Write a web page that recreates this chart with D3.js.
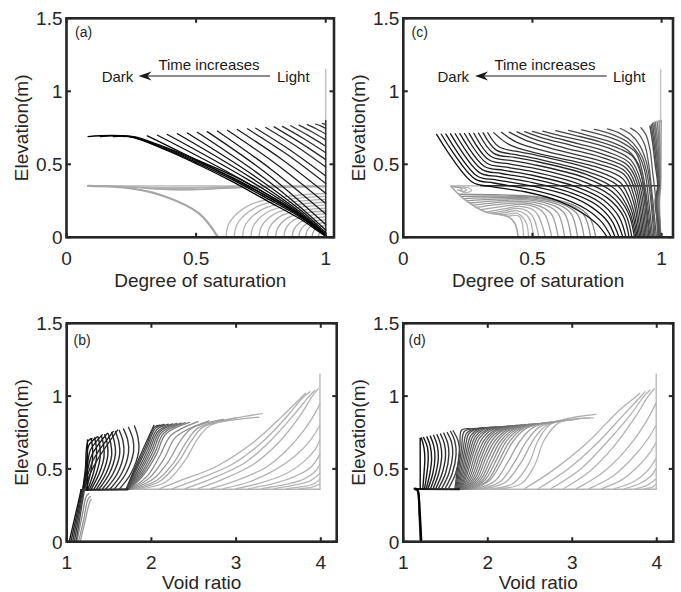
<!DOCTYPE html>
<html>
<head>
<meta charset="utf-8">
<script src="https://cdn.jsdelivr.net/npm/d3@7/dist/d3.min.js"></script>
<style>
  body { margin: 0; background: #fff; }
  svg { display: block; font-family: "Liberation Sans", Arial, sans-serif; }
</style>
</head>
<body>
<script>
// tick values
const satTicks = [0, 0.5, 1];
const voidTicks = [1, 2, 3, 4];
const elevTicks = [0, 0.5, 1, 1.5];

// ---- panel (a): degree of saturation, case 1 ----
const aInitial = [[1, 0.79], [1, 1.15]];
const aWet = [[1, 0], [1, 0.8]];
const aSurface = [
  [[0.083, 0.352], [1, 0.352]],
  [[0.14, 0.351], [0.3, 0.344], [0.45, 0.341], [0.6, 0.347], [1, 0.35]],
  [[0.2, 0.35], [0.32, 0.337], [0.45, 0.333], [0.62, 0.344], [1, 0.349]],
  [[0.25, 0.345], [0.35, 0.33], [0.47, 0.327], [0.65, 0.342], [1, 0.348]],
  [[0.3, 0.34], [0.4, 0.327], [0.5, 0.326], [0.68, 0.341], [1, 0.347]]
];
const aArc = [[0.083, 0.352], [0.25, 0.335], [0.383, 0.278], [0.511, 0.164], [0.585, 0]];
const aBottom = [
  [[0.615, 0], [0.630, 0.105], [0.711, 0.225], [0.846, 0.279], [1, 0.30]],
  [[0.647, 0], [0.661, 0.098], [0.735, 0.21], [0.859, 0.26], [1, 0.28]],
  [[0.679, 0], [0.692, 0.091], [0.759, 0.195], [0.872, 0.242], [1, 0.26]],
  [[0.711, 0], [0.723, 0.084], [0.783, 0.18], [0.884, 0.223], [1, 0.24]],
  [[0.743, 0], [0.753, 0.077], [0.807, 0.165], [0.897, 0.205], [1, 0.22]],
  [[0.775, 0], [0.784, 0.07], [0.831, 0.15], [0.91, 0.186], [1, 0.2]],
  [[0.807, 0], [0.815, 0.063], [0.855, 0.135], [0.923, 0.167], [1, 0.18]],
  [[0.839, 0], [0.845, 0.056], [0.879, 0.12], [0.936, 0.149], [1, 0.16]],
  [[0.871, 0], [0.876, 0.049], [0.903, 0.105], [0.948, 0.13], [1, 0.14]],
  [[0.897, 0], [0.901, 0.042], [0.923, 0.09], [0.959, 0.112], [1, 0.12]],
  [[0.923, 0], [0.926, 0.035], [0.942, 0.075], [0.969, 0.093], [1, 0.10]],
  [[0.948, 0], [0.95, 0.028], [0.961, 0.06], [0.979, 0.074], [1, 0.08]],
  [[0.972, 0], [0.973, 0.018], [0.979, 0.038], [0.989, 0.047], [1, 0.05]]
];
// early (top right) to late (lowest)
const aDark = [
  [[0.987, 0.78], [1, 0.772]],
  [[0.961, 0.776], [0.98, 0.763], [1, 0.746]],
  [[0.929, 0.772], [0.965, 0.742], [1, 0.708]],
  [[0.897, 0.768], [0.948, 0.721], [1, 0.667]],
  [[0.865, 0.764], [0.932, 0.698], [1, 0.624]],
  [[0.833, 0.760], [0.916, 0.675], [1, 0.579]],
  [[0.801, 0.756], [0.90, 0.65], [1, 0.532]],
  [[0.769, 0.752], [0.885, 0.625], [1, 0.482]],
  [[0.730, 0.747], [0.865, 0.595], [1, 0.420]],
  [[0.698, 0.743], [0.849, 0.57], [1, 0.368]],
  [[0.659, 0.738], [0.83, 0.535], [1, 0.301]],
  [[0.621, 0.733], [0.81, 0.50], [1, 0.232]],
  [[0.582, 0.728], [0.79, 0.465], [1, 0.16]],
  [[0.543, 0.724], [0.77, 0.44], [1, 0.087]],
  [[0.505, 0.719], [0.752, 0.42], [0.9, 0.21], [1, 0.05]],
  [[0.466, 0.714], [0.733, 0.41], [0.9, 0.19], [1, 0.032]],
  [[0.428, 0.709], [0.714, 0.405], [0.9, 0.175], [1, 0.023]],
  [[0.389, 0.704], [0.695, 0.40], [0.9, 0.165], [1, 0.018]],
  [[0.351, 0.699], [0.675, 0.395], [0.9, 0.155], [1, 0.016]],
  [[0.312, 0.695], [0.656, 0.39], [0.9, 0.15], [1, 0.013]],
  [[0.22, 0.69], [0.26, 0.69], [0.37, 0.625], [0.51, 0.525], [0.65, 0.415], [0.78, 0.29], [0.9, 0.16], [0.975, 0.055], [1, 0.015]],
  [[0.18, 0.69], [0.25, 0.69], [0.375, 0.615], [0.51, 0.515], [0.645, 0.405], [0.775, 0.28], [0.9, 0.15], [0.975, 0.05], [1, 0.012]],
  [[0.13, 0.69], [0.245, 0.69], [0.38, 0.605], [0.51, 0.505], [0.64, 0.395], [0.77, 0.27], [0.9, 0.14], [0.975, 0.045], [1, 0.01]],
  [[0.083, 0.69], [0.2415, 0.689], [0.383, 0.598], [0.511, 0.495], [0.64, 0.381], [0.769, 0.255], [0.897, 0.13], [0.974, 0.038], [1, 0.005]]
];

// ---- panel (c): degree of saturation, case 2 ----
const cInitial = [[0.996, 0.79], [0.996, 1.146]];
const cSurface = [[0.186, 0.352], [0.995, 0.352]];
const cInterface = [[0.3, 0.353], [0.99, 0.353]];
const cEnvelope = [[0.185, 0.348], [0.239, 0.256], [0.316, 0.175], [0.406, 0.141], [0.432, 0.095], [0.445, 0]];
const cLoops = [
  [[0.185, 0.348], [0.225, 0.346], [0.255, 0.338], [0.265, 0.322], [0.25, 0.308], [0.23, 0.31]],
  [[0.185, 0.348], [0.21, 0.345], [0.235, 0.337], [0.245, 0.325], [0.235, 0.315], [0.22, 0.318]],
  [[0.185, 0.348], [0.2, 0.344], [0.22, 0.338], [0.227, 0.328], [0.22, 0.322], [0.21, 0.325]]
];
// outer (early) to inner (late)
const cArcs = [
  [[0.215, 0.295], [0.38, 0.29], [0.53, 0.275], [0.66, 0.22], [0.72, 0.14], [0.745, 0]],
  [[0.225, 0.28], [0.37, 0.282], [0.52, 0.272], [0.645, 0.22], [0.70, 0.15], [0.725, 0]],
  [[0.235, 0.265], [0.36, 0.272], [0.51, 0.268], [0.625, 0.22], [0.675, 0.155], [0.70, 0]],
  [[0.245, 0.25], [0.36, 0.262], [0.50, 0.262], [0.605, 0.22], [0.65, 0.16], [0.675, 0]],
  [[0.255, 0.235], [0.36, 0.25], [0.49, 0.255], [0.585, 0.215], [0.625, 0.16], [0.65, 0]],
  [[0.27, 0.22], [0.36, 0.238], [0.48, 0.245], [0.565, 0.21], [0.60, 0.16], [0.625, 0]],
  [[0.285, 0.205], [0.37, 0.225], [0.47, 0.235], [0.545, 0.2], [0.575, 0.155], [0.60, 0]],
  [[0.30, 0.19], [0.38, 0.21], [0.46, 0.225], [0.525, 0.195], [0.55, 0.15], [0.575, 0]],
  [[0.32, 0.172], [0.39, 0.195], [0.45, 0.212], [0.505, 0.185], [0.525, 0.14], [0.55, 0]],
  [[0.34, 0.165], [0.40, 0.185], [0.44, 0.198], [0.485, 0.175], [0.505, 0.13], [0.525, 0]],
  [[0.36, 0.158], [0.41, 0.175], [0.44, 0.182], [0.475, 0.155], [0.49, 0.12], [0.505, 0]],
  [[0.38, 0.15], [0.42, 0.162], [0.44, 0.165], [0.465, 0.13], [0.478, 0.09], [0.485, 0]],
  [[0.40, 0.142], [0.43, 0.15], [0.448, 0.145], [0.46, 0.1], [0.466, 0]]
];
const cWall = [
  [[0.998, 0.8], [0.997, 0.5], [0.996, 0.35], [0.992, 0.25], [0.997, 0]],
  [[0.99, 0.8], [0.993, 0.6], [0.995, 0.4], [0.99, 0.25], [0.995, 0]],
  [[0.982, 0.795], [0.99, 0.65], [0.993, 0.45], [0.993, 0.35], [0.987, 0.25], [0.993, 0.1], [0.995, 0]],
  [[0.975, 0.79], [0.985, 0.65], [0.99, 0.5], [0.993, 0.35], [0.985, 0.25], [0.993, 0.1], [0.995, 0]],
  [[0.97, 0.785], [0.98, 0.65], [0.987, 0.5], [0.99, 0.35], [0.982, 0.25], [0.99, 0.1], [0.994, 0]],
  [[0.965, 0.78], [0.975, 0.65], [0.985, 0.5], [0.99, 0.35], [0.98, 0.25], [0.99, 0.1], [0.993, 0]],
  [[0.96, 0.77], [0.97, 0.65], [0.98, 0.5], [0.987, 0.35], [0.977, 0.25], [0.987, 0.1], [0.992, 0]],
  [[0.955, 0.76], [0.965, 0.65], [0.975, 0.5], [0.985, 0.35], [0.975, 0.25], [0.985, 0.1], [0.99, 0]]
];
// early (top right) to late (lowest)
const cDark = [
  [[0.92, 0.75], [0.94, 0.7], [0.955, 0.6], [0.965, 0.45], [0.975, 0.3], [0.98, 0.15], [0.985, 0]],
  [[0.88, 0.748], [0.91, 0.71], [0.935, 0.63], [0.95, 0.5], [0.96, 0.35], [0.97, 0.18], [0.98, 0]],
  [[0.84, 0.745], [0.88, 0.705], [0.915, 0.63], [0.94, 0.52], [0.955, 0.38], [0.965, 0.2], [0.975, 0]],
  [[0.79, 0.742], [0.84, 0.71], [0.89, 0.645], [0.925, 0.55], [0.945, 0.42], [0.96, 0.22], [0.97, 0]],
  [[0.74, 0.739], [0.80, 0.71], [0.87, 0.65], [0.91, 0.57], [0.935, 0.45], [0.95, 0.25], [0.965, 0]],
  [[0.69, 0.736], [0.76, 0.705], [0.84, 0.655], [0.90, 0.58], [0.925, 0.45], [0.94, 0.3], [0.96, 0]],
  [[0.64, 0.733], [0.71, 0.70], [0.80, 0.655], [0.87, 0.595], [0.91, 0.5], [0.93, 0.35], [0.955, 0]],
  [[0.59, 0.73], [0.66, 0.70], [0.76, 0.655], [0.84, 0.605], [0.89, 0.55], [0.925, 0.40], [0.95, 0]],
  [[0.54, 0.727], [0.61, 0.695], [0.72, 0.65], [0.81, 0.6], [0.88, 0.53], [0.92, 0.38], [0.945, 0]],
  [[0.50, 0.725], [0.57, 0.69], [0.68, 0.64], [0.79, 0.585], [0.875, 0.51], [0.915, 0.36], [0.94, 0]],
  [[0.47, 0.724], [0.54, 0.68], [0.65, 0.63], [0.78, 0.565], [0.87, 0.49], [0.91, 0.34], [0.935, 0]],
  [[0.44, 0.722], [0.51, 0.67], [0.62, 0.615], [0.77, 0.545], [0.865, 0.47], [0.905, 0.32], [0.93, 0]],
  [[0.41, 0.72], [0.48, 0.66], [0.59, 0.60], [0.76, 0.525], [0.86, 0.45], [0.90, 0.3], [0.925, 0]],
  [[0.38, 0.719], [0.44, 0.65], [0.55, 0.59], [0.75, 0.505], [0.855, 0.43], [0.895, 0.27], [0.92, 0]],
  [[0.35, 0.717], [0.41, 0.635], [0.52, 0.575], [0.74, 0.485], [0.85, 0.40], [0.89, 0.25], [0.915, 0]],
  [[0.327, 0.716], [0.37, 0.62], [0.45, 0.585], [0.52, 0.56], [0.73, 0.465], [0.84, 0.375], [0.885, 0.22], [0.91, 0]],
  [[0.309, 0.715], [0.36, 0.597], [0.44, 0.565], [0.51, 0.54], [0.72, 0.445], [0.83, 0.355], [0.88, 0.2], [0.905, 0]],
  [[0.291, 0.714], [0.35, 0.575], [0.43, 0.547], [0.50, 0.525], [0.71, 0.43], [0.82, 0.33], [0.875, 0.18], [0.90, 0]],
  [[0.273, 0.713], [0.34, 0.553], [0.42, 0.525], [0.50, 0.50], [0.70, 0.41], [0.81, 0.31], [0.87, 0.17], [0.895, 0]],
  [[0.255, 0.712], [0.331, 0.531], [0.41, 0.503], [0.50, 0.475], [0.69, 0.387], [0.80, 0.29], [0.86, 0.16], [0.885, 0]],
  [[0.237, 0.711], [0.322, 0.509], [0.40, 0.48], [0.50, 0.45], [0.68, 0.365], [0.79, 0.27], [0.85, 0.15], [0.874, 0]],
  [[0.219, 0.710], [0.313, 0.487], [0.39, 0.459], [0.50, 0.425], [0.67, 0.345], [0.775, 0.255], [0.835, 0.14], [0.862, 0]],
  [[0.201, 0.709], [0.304, 0.465], [0.38, 0.437], [0.50, 0.40], [0.66, 0.325], [0.76, 0.24], [0.82, 0.13], [0.85, 0]],
  [[0.183, 0.708], [0.295, 0.443], [0.37, 0.415], [0.50, 0.375], [0.65, 0.305], [0.75, 0.22], [0.805, 0.12], [0.835, 0]],
  [[0.165, 0.707], [0.286, 0.42], [0.36, 0.393], [0.50, 0.35], [0.64, 0.285], [0.73, 0.205], [0.79, 0.11], [0.82, 0]],
  [[0.147, 0.706], [0.277, 0.40], [0.35, 0.372], [0.50, 0.325], [0.62, 0.265], [0.71, 0.19], [0.77, 0.1], [0.805, 0]],
  [[0.129, 0.705], [0.265, 0.381], [0.342, 0.347], [0.471, 0.312], [0.60, 0.25], [0.69, 0.17], [0.75, 0.09], [0.79, 0]]
];

// ---- panel (b): void ratio, case 1 ----
const bInitial = [[3.99, 0.36], [3.99, 1.15]];
const bSurface = [[1.7, 0.36], [3.99, 0.36]];
const bInterface = [[1.17, 0.355], [1.72, 0.36]];
const bFan = [
  [[2.1, 0.365], [2.36, 0.424], [2.76, 0.515], [3.19, 0.676], [3.54, 0.859], [3.74, 0.973], [3.82, 1.02]],
  [[2.25, 0.365], [2.55, 0.43], [2.95, 0.53], [3.3, 0.68], [3.6, 0.86], [3.78, 0.985], [3.87, 1.03]],
  [[2.4, 0.365], [2.7, 0.43], [3.1, 0.54], [3.4, 0.69], [3.68, 0.87], [3.85, 0.99], [3.93, 1.04]],
  [[2.55, 0.365], [2.85, 0.43], [3.2, 0.53], [3.5, 0.68], [3.75, 0.86], [3.9, 1.0], [3.97, 1.05]],
  [[2.7, 0.365], [3.0, 0.42], [3.35, 0.51], [3.6, 0.63], [3.82, 0.78], [3.95, 0.9], [3.99, 0.95]],
  [[2.85, 0.365], [3.15, 0.41], [3.45, 0.49], [3.7, 0.59], [3.88, 0.7], [3.99, 0.8]],
  [[3.0, 0.365], [3.3, 0.405], [3.6, 0.47], [3.8, 0.55], [3.93, 0.63], [3.99, 0.7]],
  [[3.15, 0.365], [3.45, 0.4], [3.7, 0.45], [3.88, 0.51], [3.99, 0.6]],
  [[3.3, 0.365], [3.6, 0.395], [3.8, 0.43], [3.93, 0.48], [3.99, 0.53]],
  [[3.45, 0.365], [3.7, 0.39], [3.88, 0.42], [3.99, 0.47]],
  [[3.6, 0.365], [3.8, 0.38], [3.93, 0.4], [3.99, 0.43]],
  [[3.75, 0.365], [3.9, 0.375], [3.99, 0.395]]
];
// light (early, long) to dark (late, steep)
const bMid = [
  [[1.82, 0.36], [2.17, 0.41], [2.40, 0.56], [2.55, 0.71], [2.7, 0.8], [3.31, 0.88]],
  [[1.8, 0.36], [2.1, 0.415], [2.32, 0.55], [2.48, 0.70], [2.62, 0.79], [3.27, 0.855]],
  [[1.78, 0.36], [2.06, 0.42], [2.26, 0.54], [2.42, 0.69], [2.55, 0.78], [3.0, 0.85]],
  [[1.77, 0.36], [2.02, 0.43], [2.2, 0.55], [2.35, 0.70], [2.48, 0.78], [2.85, 0.84]],
  [[1.76, 0.36], [1.98, 0.44], [2.15, 0.57], [2.29, 0.72], [2.68, 0.83]],
  [[1.75, 0.36], [1.95, 0.45], [2.10, 0.59], [2.23, 0.73], [2.55, 0.825]],
  [[1.74, 0.36], [1.91, 0.46], [2.06, 0.60], [2.17, 0.74], [2.45, 0.82]],
  [[1.735, 0.36], [1.895, 0.465], [2.04, 0.61], [2.145, 0.745], [2.4, 0.818]],
  [[1.73, 0.36], [1.88, 0.47], [2.02, 0.62], [2.12, 0.75], [2.35, 0.815]],
  [[1.725, 0.36], [1.865, 0.475], [2.0, 0.625], [2.1, 0.755], [2.3, 0.812]],
  [[1.72, 0.36], [1.85, 0.48], [1.98, 0.63], [2.08, 0.76], [2.25, 0.81]],
  [[1.715, 0.36], [1.835, 0.485], [1.965, 0.64], [2.065, 0.77], [2.2, 0.808]],
  [[1.71, 0.36], [1.82, 0.49], [1.95, 0.65], [2.05, 0.78], [2.15, 0.805]],
  [[1.705, 0.36], [1.81, 0.495], [1.935, 0.655], [2.04, 0.79], [2.1, 0.8]],
  [[1.70, 0.36], [1.80, 0.5], [1.92, 0.66], [2.03, 0.80]]
];
const bArcs = [
  [[1.62, 0.36], [1.76, 0.47], [1.85, 0.62], [1.84, 0.72], [1.8, 0.795]],
  [[1.56, 0.36], [1.70, 0.47], [1.79, 0.62], [1.78, 0.71], [1.73, 0.785]],
  [[1.51, 0.36], [1.65, 0.47], [1.73, 0.61], [1.72, 0.70], [1.67, 0.775]],
  [[1.46, 0.36], [1.6, 0.47], [1.675, 0.61], [1.665, 0.69], [1.62, 0.765]],
  [[1.42, 0.36], [1.55, 0.47], [1.625, 0.6], [1.615, 0.685], [1.575, 0.757]],
  [[1.38, 0.36], [1.505, 0.47], [1.575, 0.6], [1.565, 0.68], [1.53, 0.75]],
  [[1.35, 0.36], [1.465, 0.47], [1.53, 0.59], [1.52, 0.675], [1.49, 0.742]],
  [[1.32, 0.36], [1.425, 0.47], [1.485, 0.59], [1.48, 0.67], [1.45, 0.735]],
  [[1.29, 0.36], [1.385, 0.47], [1.44, 0.58], [1.435, 0.665], [1.41, 0.727]],
  [[1.27, 0.36], [1.35, 0.47], [1.395, 0.58], [1.39, 0.66], [1.37, 0.72]],
  [[1.25, 0.36], [1.315, 0.47], [1.35, 0.57], [1.35, 0.65], [1.33, 0.712]],
  [[1.23, 0.36], [1.28, 0.47], [1.305, 0.57], [1.305, 0.645], [1.29, 0.705]]
];
const bFeathers = [
  [[1.21, 0.36], [1.28, 0.47], [1.37, 0.57], [1.6, 0.767]],
  [[1.21, 0.36], [1.26, 0.48], [1.33, 0.58], [1.55, 0.757]],
  [[1.2, 0.36], [1.25, 0.5], [1.3, 0.6], [1.48, 0.745]],
  [[1.2, 0.36], [1.24, 0.5], [1.28, 0.63], [1.42, 0.735]],
  [[1.19, 0.36], [1.23, 0.5], [1.26, 0.66], [1.36, 0.72]],
  [[1.19, 0.36], [1.22, 0.5], [1.25, 0.69], [1.3, 0.71]],
  [[1.245, 0.355], [1.245, 0.70]]
];
const bBaseGray = [
  [[1.16, 0], [1.22, 0.15], [1.27, 0.27], [1.29, 0.29]],
  [[1.14, 0], [1.2, 0.15], [1.25, 0.29], [1.28, 0.31]],
  [[1.12, 0], [1.19, 0.2], [1.23, 0.31], [1.26, 0.33]]
];
const bBase = [
  [[1.11, 0], [1.21, 0.36]],
  [[1.09, 0], [1.2, 0.36]],
  [[1.07, 0], [1.19, 0.357]],
  [[1.05, 0], [1.18, 0.355]],
  [[1.03, 0], [1.17, 0.355]]
];

// ---- panel (d): void ratio, case 2 ----
const dInitial = [[3.994, 0.36], [3.994, 1.15]];
const dSurface = [[1.65, 0.36], [3.994, 0.36]];
const dInterface = [[1.135, 0.362], [1.66, 0.36]];
const dFan = [
  [[2.44, 0.365], [2.77, 0.49], [3.17, 0.676], [3.56, 0.905], [3.74, 0.99], [3.80, 1.02]],
  [[2.6, 0.365], [2.95, 0.5], [3.3, 0.68], [3.62, 0.88], [3.8, 0.99], [3.86, 1.03]],
  [[2.75, 0.365], [3.1, 0.5], [3.42, 0.69], [3.7, 0.88], [3.85, 1.0], [3.92, 1.04]],
  [[2.9, 0.365], [3.2, 0.48], [3.5, 0.66], [3.75, 0.86], [3.9, 1.0], [3.97, 1.05]],
  [[3.05, 0.365], [3.35, 0.47], [3.62, 0.62], [3.85, 0.8], [3.99, 0.95]],
  [[3.2, 0.365], [3.48, 0.45], [3.72, 0.58], [3.9, 0.71], [3.99, 0.8]],
  [[3.35, 0.365], [3.6, 0.43], [3.8, 0.53], [3.93, 0.62], [3.99, 0.68]],
  [[3.5, 0.365], [3.72, 0.41], [3.88, 0.48], [3.99, 0.57]],
  [[3.62, 0.365], [3.8, 0.4], [3.93, 0.45], [3.99, 0.5]],
  [[3.75, 0.365], [3.88, 0.385], [3.99, 0.43]],
  [[3.85, 0.365], [3.95, 0.375], [3.99, 0.395]]
];
// light (early, long) to dark (late, steep)
const dWedge = [
  [[2.1, 0.36], [2.4, 0.4], [2.55, 0.52], [2.67, 0.7], [2.85, 0.82], [3.25, 0.85]],
  [[2.0, 0.36], [2.3, 0.4], [2.48, 0.53], [2.6, 0.7], [2.75, 0.81], [3.28, 0.875]],
  [[1.9, 0.36], [2.2, 0.405], [2.40, 0.55], [2.54, 0.70], [2.7, 0.8], [3.2, 0.85]],
  [[1.85, 0.36], [2.14, 0.41], [2.32, 0.55], [2.46, 0.69], [2.62, 0.79], [3.05, 0.84]],
  [[1.83, 0.36], [2.08, 0.415], [2.24, 0.55], [2.38, 0.69], [2.54, 0.785], [2.95, 0.835]],
  [[1.81, 0.36], [2.02, 0.42], [2.17, 0.555], [2.3, 0.69], [2.46, 0.78], [2.85, 0.83]],
  [[1.8, 0.36], [2.0, 0.422], [2.135, 0.557], [2.26, 0.69], [2.42, 0.778], [2.8, 0.825]],
  [[1.79, 0.36], [1.97, 0.425], [2.1, 0.56], [2.22, 0.69], [2.38, 0.775], [2.75, 0.82]],
  [[1.78, 0.36], [1.945, 0.428], [2.07, 0.565], [2.185, 0.69], [2.34, 0.772], [2.7, 0.818]],
  [[1.77, 0.36], [1.92, 0.43], [2.04, 0.57], [2.15, 0.69], [2.3, 0.77], [2.65, 0.815]],
  [[1.76, 0.36], [1.9, 0.435], [2.01, 0.575], [2.115, 0.69], [2.26, 0.768], [2.6, 0.812]],
  [[1.75, 0.36], [1.88, 0.44], [1.98, 0.58], [2.08, 0.69], [2.22, 0.765], [2.55, 0.81]],
  [[1.74, 0.36], [1.86, 0.445], [1.955, 0.585], [2.05, 0.695], [2.18, 0.765], [2.5, 0.807]],
  [[1.73, 0.36], [1.84, 0.45], [1.93, 0.59], [2.02, 0.70], [2.15, 0.765], [2.45, 0.805]],
  [[1.72, 0.36], [1.82, 0.455], [1.905, 0.595], [1.99, 0.70], [2.11, 0.765], [2.4, 0.802]],
  [[1.71, 0.36], [1.8, 0.46], [1.88, 0.6], [1.96, 0.70], [2.08, 0.765], [2.35, 0.80]],
  [[1.70, 0.36], [1.78, 0.465], [1.855, 0.605], [1.93, 0.705], [2.04, 0.765], [2.3, 0.797]],
  [[1.69, 0.36], [1.76, 0.47], [1.83, 0.61], [1.9, 0.71], [2.0, 0.765], [2.25, 0.795]],
  [[1.68, 0.36], [1.745, 0.475], [1.81, 0.615], [1.875, 0.715], [1.98, 0.767], [2.2, 0.792]],
  [[1.67, 0.36], [1.73, 0.48], [1.79, 0.62], [1.85, 0.72], [1.95, 0.77], [2.15, 0.79]],
  [[1.66, 0.36], [1.715, 0.485], [1.77, 0.625], [1.825, 0.725], [1.92, 0.772], [2.1, 0.788]],
  [[1.65, 0.36], [1.70, 0.49], [1.75, 0.63], [1.80, 0.73], [1.9, 0.775], [2.05, 0.785]],
  [[1.64, 0.36], [1.685, 0.495], [1.73, 0.635], [1.775, 0.74], [1.87, 0.775], [2.0, 0.783]],
  [[1.63, 0.36], [1.67, 0.5], [1.71, 0.64], [1.75, 0.745], [1.85, 0.775], [1.95, 0.78]],
  [[1.62, 0.36], [1.655, 0.5], [1.69, 0.645], [1.72, 0.755], [1.82, 0.776], [1.9, 0.778]],
  [[1.61, 0.36], [1.64, 0.5], [1.67, 0.65], [1.69, 0.767], [1.8, 0.775]]
];
const dArcs = [
  [[1.53, 0.36], [1.62, 0.47], [1.665, 0.6], [1.65, 0.69], [1.59, 0.762]],
  [[1.49, 0.36], [1.58, 0.47], [1.625, 0.6], [1.61, 0.69], [1.56, 0.757]],
  [[1.45, 0.36], [1.54, 0.47], [1.585, 0.6], [1.57, 0.685], [1.52, 0.75]],
  [[1.41, 0.36], [1.5, 0.47], [1.54, 0.6], [1.525, 0.68], [1.48, 0.745]],
  [[1.38, 0.36], [1.46, 0.47], [1.5, 0.59], [1.485, 0.675], [1.44, 0.74]],
  [[1.35, 0.36], [1.42, 0.47], [1.455, 0.59], [1.44, 0.67], [1.40, 0.735]],
  [[1.32, 0.36], [1.385, 0.47], [1.415, 0.58], [1.40, 0.665], [1.36, 0.73]],
  [[1.29, 0.36], [1.35, 0.47], [1.375, 0.58], [1.36, 0.66], [1.32, 0.725]],
  [[1.27, 0.36], [1.315, 0.47], [1.335, 0.57], [1.32, 0.655], [1.28, 0.72]],
  [[1.25, 0.36], [1.28, 0.47], [1.295, 0.57], [1.285, 0.65], [1.24, 0.716]],
  [[1.23, 0.36], [1.245, 0.47], [1.255, 0.57], [1.245, 0.645], [1.215, 0.712]],
  [[1.2, 0.36], [1.2, 0.71]]
];
const dBase = [
  [[1.14, 0.36], [1.17, 0.35], [1.19, 0.2], [1.205, 0]],
  [[1.135, 0.365], [1.16, 0.362], [1.175, 0.345], [1.195, 0.2], [1.213, 0]]
];

// ---------------------------------------------------------------
const W = 681, H = 592;
let svg = null;

const line = (x, y) => d3.line()
  .x(d => x(d[0]))
  .y(d => y(d[1]))
  .curve(d3.curveCatmullRom.alpha(0.5));

setupSvg();

const pa = makePanel("a", {left: 66.5, top: 18.3, right: 334, bottom: 237.3}, [0, 1.032]);
const pc = makePanel("c", {left: 403.3, top: 18.3, right: 673, bottom: 237.3}, [0, 1.044]);
const pb = makePanel("b", {left: 66.7, top: 323.3, right: 336.7, bottom: 541.7}, [1, 4.188]);
const pd = makePanel("d", {left: 403.3, top: 323.3, right: 673.3, bottom: 541.7}, [1, 4.196]);

// (a)
drawCurves(pa, [aInitial], "#c2c2c2", "#c2c2c2", 1.5);
drawCurves(pa, aBottom, "#b4b4b4", "#a2a2a2", 1.3);
drawCurves(pa, aSurface, "#b8b8b8", "#a8a8a8", 1.3);
drawCurves(pa, [aArc], "#a6a6a6", "#a6a6a6", 2.2);
drawCurves(pa, [aWet], "#3a3a3a", "#3a3a3a", 1.6);
drawCurves(pa, aDark, "#3c3c3c", "#000000", 1.3);

// (c)
drawCurves(pc, [cInitial], "#c2c2c2", "#c2c2c2", 1.5);
drawCurves(pc, [cSurface], "#b0b0b0", "#b0b0b0", 1.3);
drawCurves(pc, cLoops, "#b4b4b4", "#a0a0a0", 1.2);
drawCurves(pc, cArcs, "#8c8c8c", "#b4b4b4", 1.3);
drawCurves(pc, [cEnvelope], "#a8a8a8", "#a8a8a8", 1.7);
drawCurves(pc, cWall, "#9a9a9a", "#4a4a4a", 1.5);
drawCurves(pc, [cInterface], "#3a3a3a", "#3a3a3a", 1.3);
drawCurves(pc, cDark, "#5a5a5a", "#111111", 1.3);

// (b)
drawCurves(pb, [bInitial], "#bdbdbd", "#bdbdbd", 1.5);
drawCurves(pb, [bSurface], "#b4b4b4", "#b4b4b4", 1.4);
drawCurves(pb, bFan, "#b0b0b0", "#b8b8b8", 1.3);
drawCurves(pb, bBaseGray, "#9a9a9a", "#8a8a8a", 1.3);
drawCurves(pb, bMid, "#b4b4b4", "#3a3a3a", 1.3);
drawCurves(pb, [bInterface], "#2a2a2a", "#2a2a2a", 2.2);
drawCurves(pb, bArcs, "#3c3c3c", "#1a1a1a", 1.4);
drawCurves(pb, bFeathers, "#2a2a2a", "#111111", 1.3);
drawCurves(pb, bBase, "#4a4a4a", "#1a1a1a", 1.4);

// (d)
drawCurves(pd, [dInitial], "#bdbdbd", "#bdbdbd", 1.5);
drawCurves(pd, [dSurface], "#b4b4b4", "#b4b4b4", 1.4);
drawCurves(pd, dFan, "#b0b0b0", "#b8b8b8", 1.3);
drawCurves(pd, dWedge, "#b4b4b4", "#454545", 1.3);
drawCurves(pd, [dInterface], "#1a1a1a", "#1a1a1a", 2.0);
drawCurves(pd, dArcs, "#444444", "#0a0a0a", 1.4);
drawCurves(pd, dBase, "#333333", "#000000", 2.2);

drawFrame(pa, satTicks, "Degree of saturation", 286.8);
drawFrame(pc, satTicks, "Degree of saturation", 286.8);
drawFrame(pb, voidTicks, "Void ratio", 588.5);
drawFrame(pd, voidTicks, "Void ratio", 588.5);

panelLabel("(a)", 75, 37);
panelLabel("(c)", 411.5, 37);
panelLabel("(b)", 73.5, 345);
panelLabel("(d)", 408.5, 345);

timeArrow(117.5, 293.3, 209, 138.5, 270);
timeArrow(453.3, 629.2, 545, 475, 606.7);


function setupSvg() {
  svg = d3.select("body").append("svg")
    .attr("width", W)
    .attr("height", H);
}

function makePanel(id, box, xDomain) {
  const x = d3.scaleLinear().domain(xDomain).range([box.left, box.right]);
  const y = d3.scaleLinear().domain([0, 1.5]).range([box.bottom, box.top]);
  svg.append("clipPath").attr("id", "clip-" + id)
    .append("rect")
    .attr("x", box.left).attr("y", box.top)
    .attr("width", box.right - box.left)
    .attr("height", box.bottom - box.top);
  const g = svg.append("g").attr("clip-path", `url(#clip-${id})`);
  return {id, box, x, y, g, gen: line(x, y)};
}

function drawCurves(p, curves, from, to, width) {
  const shade = d3.scaleLinear()
    .domain([0, Math.max(1, curves.length - 1)])
    .range([from, to])
    .interpolate(d3.interpolateRgb);
  p.g.append("g")
    .selectAll("path")
    .data(curves)
    .enter().append("path")
    .attr("d", p.gen)
    .attr("fill", "none")
    .attr("stroke", (d, i) => shade(i))
    .attr("stroke-width", width)
    .attr("stroke-linejoin", "round")
    .attr("stroke-linecap", "round");
}

function drawFrame(p, xTicks, xTitle, titleY) {
  const b = p.box;
  const f = svg.append("g").attr("stroke", "#262626");
  const tk = 4.5;

  xTicks.forEach(t => {
    const px = p.x(t);
    f.append("line").attr("x1", px).attr("x2", px).attr("y1", b.top).attr("y2", b.top + tk).attr("stroke-width", 2);
    f.append("line").attr("x1", px).attr("x2", px).attr("y1", b.bottom).attr("y2", b.bottom - tk).attr("stroke-width", 2);
  });
  elevTicks.forEach(t => {
    const py = p.y(t);
    f.append("line").attr("x1", b.left).attr("x2", b.left + tk).attr("y1", py).attr("y2", py).attr("stroke-width", 2);
    f.append("line").attr("x1", b.right).attr("x2", b.right - tk).attr("y1", py).attr("y2", py).attr("stroke-width", 2);
  });

  f.append("rect")
    .attr("x", b.left).attr("y", b.top)
    .attr("width", b.right - b.left)
    .attr("height", b.bottom - b.top)
    .attr("fill", "none")
    .attr("stroke-width", 2.6);

  const t = svg.append("g").attr("fill", "#262626").style("font-size", "19px");

  t.selectAll(".xt").data(xTicks).enter().append("text")
    .attr("x", d => p.x(d))
    .attr("y", b.bottom + 27.7)
    .attr("text-anchor", "middle")
    .text(d => String(d));

  t.selectAll(".yt").data(elevTicks).enter().append("text")
    .attr("x", b.left - 4)
    .attr("y", d => p.y(d))
    .attr("dy", "0.36em")
    .attr("text-anchor", "end")
    .text(d => String(d));

  t.append("text")
    .attr("x", (b.left + b.right) / 2)
    .attr("y", titleY)
    .attr("text-anchor", "middle")
    .text(xTitle);

  t.append("text")
    .attr("transform", `translate(${b.left - 38.5},${(b.top + b.bottom) / 2}) rotate(-90)`)
    .attr("text-anchor", "middle")
    .text("Elevation(m)");
}

function panelLabel(label, x, y) {
  svg.append("text")
    .attr("x", x).attr("y", y)
    .attr("fill", "#262626")
    .style("font-size", "14px")
    .text(label);
}

function timeArrow(darkX, lightX, midX, tipX, tailX) {
  const g = svg.append("g").attr("fill", "#1a1a1a").style("font-size", "15px");
  g.append("text").attr("x", midX).attr("y", 70).attr("text-anchor", "middle").text("Time increases");
  g.append("text").attr("x", darkX).attr("y", 81.5).attr("text-anchor", "middle").text("Dark");
  g.append("text").attr("x", lightX).attr("y", 81.5).attr("text-anchor", "middle").text("Light");
  g.append("line")
    .attr("x1", tailX).attr("x2", tipX + 8).attr("y1", 76).attr("y2", 76)
    .attr("stroke", "#1a1a1a").attr("stroke-width", 1.2);
  g.append("path")
    .attr("d", `M${tipX},76 L${tipX + 13},71.5 L${tipX + 9},76 L${tipX + 13},80.5 Z`);
}
</script>
</body>
</html>
